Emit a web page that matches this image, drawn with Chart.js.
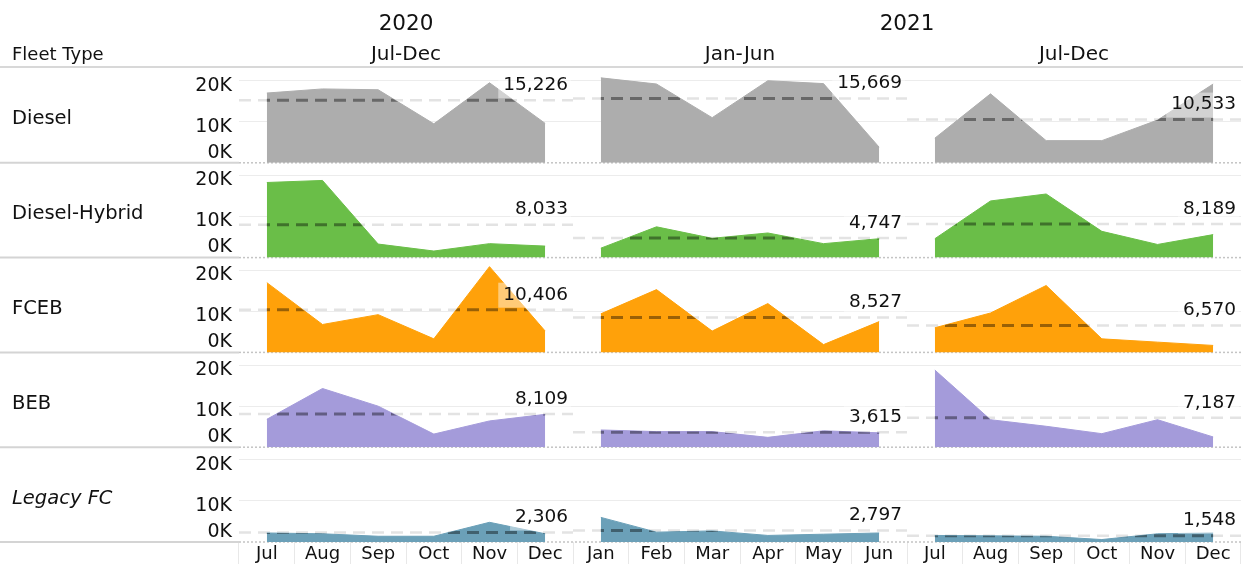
<!DOCTYPE html>
<html>
<head>
<meta charset="utf-8">
<script src="https://cdn.jsdelivr.net/npm/chart.js@4.4.1/dist/chart.umd.min.js"></script>
<style>
  body { margin: 0; background: #fff; font-family: "DejaVu Sans", sans-serif; color: #111; }
  #wrap { position: relative; width: 1243px; height: 569px; overflow: hidden; }
  #chart { position: absolute; left: 0; top: 0; }
  .txt { position: absolute; white-space: nowrap; transform: translate(-50%, -50%); }
  .rowlbl { position: absolute; left: 12px; white-space: nowrap; transform: translateY(-50%); font-size: 19px; }
</style>
</head>
<body>
<div id="wrap">
  <canvas id="chart" width="1243" height="569"></canvas>
</div>
<script>
// Fleet type x month, small multiples

const months = ['Jul', 'Aug', 'Sep', 'Oct', 'Nov', 'Dec',
                'Jan', 'Feb', 'Mar', 'Apr', 'May', 'Jun',
                'Jul', 'Aug', 'Sep', 'Oct', 'Nov', 'Dec'];
const periods = ['Jul-Dec', 'Jan-Jun', 'Jul-Dec'];
const years = ['2020', '2021'];
const fleetTypes = ['Diesel', 'Diesel-Hybrid', 'FCEB', 'BEB', 'Legacy FC'];
const fleetColors = ['#adadad', '#6abe48', '#ffa10a', '#a49bda', '#6ba0b8'];
const yTicks = [0, 10000, 20000];

// monthly values, Jul 2020 .. Dec 2021
const diesel       = [17000, 18000, 17800, 9500, 19500, 9600,
                      20700, 19200, 11000, 20000, 19300, 3800,
                      6000, 16800, 5400, 5400, 10400, 19200];
const dieselHybrid = [18300, 18800, 3300, 1600, 3400, 2800,
                      2300, 7500, 4700, 6000, 3400, 4600,
                      4600, 13800, 15500, 6400, 3200, 5600];
const fceb         = [17000, 6800, 9200, 3300, 20900, 5200,
                      9400, 15300, 5200, 11900, 1900, 7500,
                      6000, 9600, 16300, 3300, 2500, 1700];
const beb          = [6800, 14300, 10000, 3200, 6400, 8000,
                      4200, 3800, 3800, 2400, 4000, 3500,
                      18800, 6700, 5100, 3300, 6700, 2500];
const legacyFc     = [2200, 2000, 1400, 1400, 4800, 2000,
                      6000, 2400, 2700, 1600, 1900, 2200,
                      1600, 1500, 1400, 600, 2000, 2200];

// average per period (reference line + label)
const dieselAvg       = [15226, 15669, 10533];
const dieselHybridAvg = [8033, 4747, 8189];
const fcebAvg         = [10406, 8527, 6570];
const bebAvg          = [8109, 3615, 7187];
const legacyFcAvg     = [2306, 2797, 1548];

const FONT = '"DejaVu Sans", sans-serif';

const series = [diesel, dieselHybrid, fceb, beb, legacyFc];
const averages = [dieselAvg, dieselHybridAvg, fcebAvg, bebAvg, legacyFcAvg];

const datasets = [];
series.forEach((values, r) => {
    for (let c = 0; c < periods.length; c++) {
        datasets.push({
            label: fleetTypes[r] + ' ' + periods[c],
            data: values.slice(c * 6, c * 6 + 6),
            xAxisID: 'x' + c,
            yAxisID: 'y' + r,
            fill: 'origin',
            backgroundColor: fleetColors[r],
            borderColor: fleetColors[r],
            borderWidth: 1,
            pointRadius: 0,
            tension: 0,
            avg: averages[r][c]
        });
    }
});

// no overflow padding from the tick labels, the panes must stay equal
function noPad(s) {
    s.paddingTop = 0;
    s.paddingBottom = 0;
    s.paddingLeft = 0;
    s.paddingRight = 0;
}

const scales = {};
for (let c = 0; c < periods.length; c++) {
    scales['x' + c] = {
        type: 'category',
        labels: months.slice(c * 6, c * 6 + 6),
        position: 'bottom',
        stack: 'cols',
        weight: c,
        offset: true,
        border: { display: false },
        grid: { offset: true, drawOnChartArea: false, drawTicks: true, tickLength: 22, color: '#e8e8e8' },
        ticks: { padding: -20, color: '#111', font: { size: 18, family: FONT }, maxRotation: 0, autoSkip: false },
        afterFit: s => { s.height = 27; noPad(s); }
    };
}
for (let r = 0; r < fleetTypes.length; r++) {
    scales['y' + r] = {
        type: 'linear',
        position: 'left',
        stack: 'rows',
        stackWeight: 1,
        weight: fleetTypes.length - r,
        min: 0,
        max: 23100,
        border: { display: false },
        grid: {
            drawTicks: false,
            color: ctx => (ctx.tick && ctx.tick.value === 0) ? 'rgba(0,0,0,0)' : '#ececec'
        },
        afterBuildTicks: s => { s.ticks = yTicks.map(v => ({ value: v })); },
        ticks: {
            autoSkip: false,
            padding: 7,
            labelOffset: 5,
            color: '#111',
            font: { size: 19, family: FONT, lineHeight: 1.6 },
            callback: v => v === 0 ? ['0K', ''] : (v / 1000) + 'K'
        },
        afterFit: s => { s.width = 239; noPad(s); }
    };
}

// row dividers, average lines and labels
const panelPlugin = {
    id: 'panels',
    beforeDatasetsDraw(chart) {
        const ctx = chart.ctx;
        const area = chart.chartArea;
        ctx.save();
        ctx.setLineDash([]);
        ctx.strokeStyle = '#d8d8d8';
        ctx.lineWidth = 2;
        ctx.beginPath();
        ctx.moveTo(0, area.top - 1);
        ctx.lineTo(chart.width, area.top - 1);
        ctx.stroke();
        for (let r = 0; r < fleetTypes.length; r++) {
            const ys = chart.scales['y' + r];
            const yb = ys.bottom;
            ctx.setLineDash([]);
            ctx.strokeStyle = '#d4d4d4';
            ctx.lineWidth = 2;
            ctx.beginPath();
            ctx.moveTo(0, yb);
            ctx.lineTo(area.left, yb);
            ctx.stroke();
            ctx.setLineDash([2, 2]);
            ctx.strokeStyle = '#c4c4c4';
            ctx.lineWidth = 1.5;
            ctx.beginPath();
            ctx.moveTo(area.left, yb);
            ctx.lineTo(area.right, yb);
            ctx.stroke();
        }
        // light part of the reference lines (under the areas)
        chart.data.datasets.forEach(ds => {
            const xs = chart.scales[ds.xAxisID];
            const ys = chart.scales[ds.yAxisID];
            const y = ys.getPixelForValue(ds.avg);
            ctx.setLineDash([12, 7]);
            ctx.lineWidth = 2.5;
            ctx.strokeStyle = '#e3e3e3';
            ctx.beginPath();
            ctx.moveTo(xs.left, y);
            ctx.lineTo(xs.right, y);
            ctx.stroke();
        });
        ctx.restore();
    },
    afterDatasetsDraw(chart) {
        const ctx = chart.ctx;
        // dark part of the reference lines, inside the areas
        chart.data.datasets.forEach((ds, i) => {
            const meta = chart.getDatasetMeta(i);
            const xs = chart.scales[ds.xAxisID];
            const ys = chart.scales[ds.yAxisID];
            const y = ys.getPixelForValue(ds.avg);
            const base = ys.getPixelForValue(0);
            const pts = meta.data;
            ctx.save();
            ctx.beginPath();
            ctx.moveTo(pts[0].x, base);
            pts.forEach(p => ctx.lineTo(p.x, p.y));
            ctx.lineTo(pts[pts.length - 1].x, base);
            ctx.closePath();
            ctx.clip();
            ctx.setLineDash([12, 7]);
            ctx.lineWidth = 3;
            ctx.strokeStyle = 'rgba(0,0,0,0.4)';
            ctx.beginPath();
            ctx.moveTo(xs.left, y);
            ctx.lineTo(xs.right, y);
            ctx.stroke();
            ctx.restore();
        });
        // value labels
        ctx.save();
        ctx.font = '18.5px ' + FONT;
        ctx.textAlign = 'right';
        ctx.textBaseline = 'middle';
        chart.data.datasets.forEach(ds => {
            const xs = chart.scales[ds.xAxisID];
            const ys = chart.scales[ds.yAxisID];
            const y = ys.getPixelForValue(ds.avg);
            const text = ds.avg.toLocaleString('en-US');
            const w = ctx.measureText(text).width;
            const right = xs.right - 5;
            const mid = y - 15;
            ctx.fillStyle = 'rgba(255,255,255,0.45)';
            ctx.fillRect(right - w - 5, mid - 12, w + 8, y - 2 - (mid - 12));
            ctx.fillStyle = '#111';
            ctx.fillText(text, right, mid);
        });
        ctx.restore();
    }
};

const chart = new Chart(document.getElementById('chart').getContext('2d'), {
    type: 'line',
    data: { datasets: datasets },
    options: {
        responsive: false,
        animation: false,
        devicePixelRatio: 1,
        layout: { padding: { top: 68, right: 2, left: 0, bottom: 0 } },
        plugins: { legend: { display: false }, tooltip: { enabled: false } },
        scales: scales
    },
    plugins: [panelPlugin]
});

// headers and row labels, placed from the chart's scales
const wrap = document.getElementById('wrap');
function addText(text, x, y, size, cls, italic) {
    const el = document.createElement('div');
    el.className = cls;
    el.textContent = text;
    el.style.left = x + 'px';
    el.style.top = y + 'px';
    el.style.fontSize = size + 'px';
    if (italic) el.style.fontStyle = 'italic';
    wrap.appendChild(el);
}
const x0 = chart.scales.x0, x1 = chart.scales.x1, x2 = chart.scales.x2;
addText(years[0], (x0.left + x0.right) / 2, 22, 21.5, 'txt');
addText(years[1], (x1.left + x2.right) / 2, 22, 21.5, 'txt');
periods.forEach((p, c) => {
    const xs = chart.scales['x' + c];
    addText(p, (xs.left + xs.right) / 2, 53, 20, 'txt');
});
const fleetHead = document.createElement('div');
fleetHead.className = 'rowlbl';
fleetHead.textContent = 'Fleet Type';
fleetHead.style.top = '53px';
fleetHead.style.fontSize = '18px';
wrap.appendChild(fleetHead);
fleetTypes.forEach((f, r) => {
    const ys = chart.scales['y' + r];
    addText(f, 12, (ys.top + ys.bottom) / 2 + 2, 19.5, 'rowlbl', f === 'Legacy FC');
});
</script>
</body>
</html>
